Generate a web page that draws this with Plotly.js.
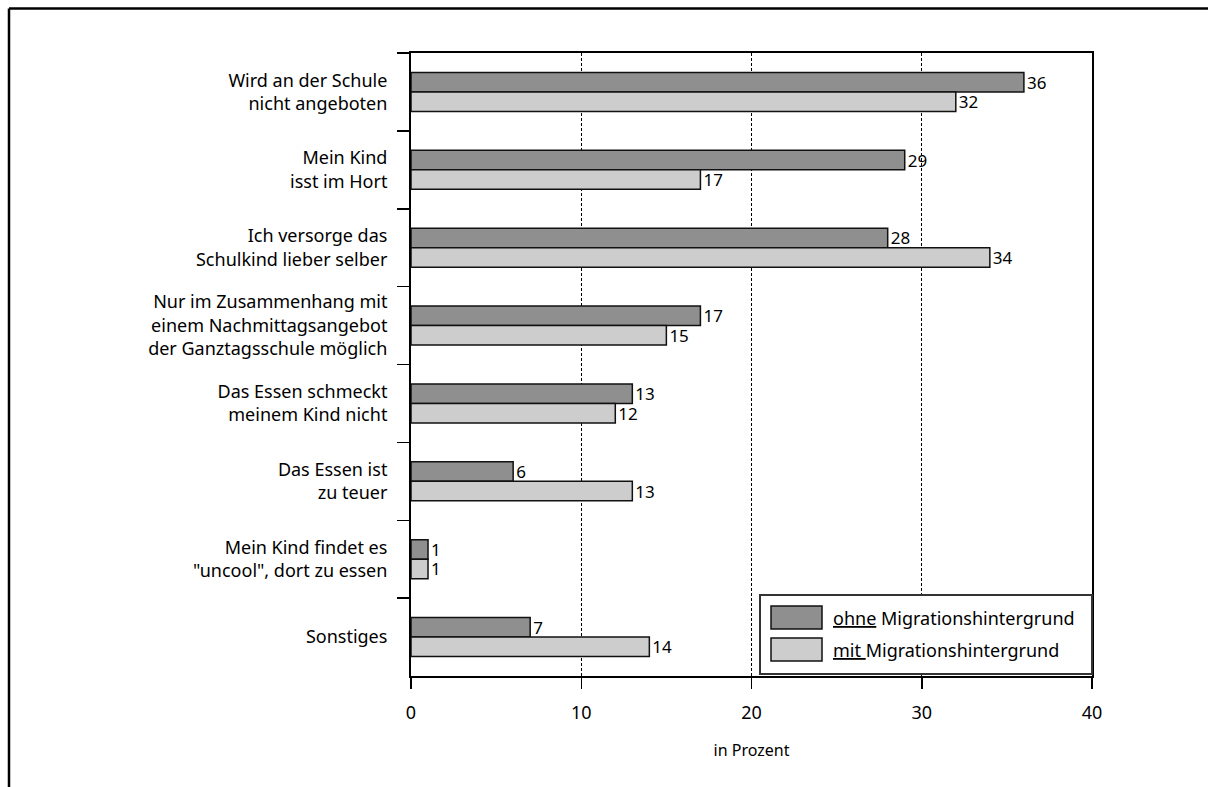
<!DOCTYPE html>
<html>
<head>
<meta charset="utf-8">
<script src="https://cdn.plot.ly/plotly-3.0.1.min.js"></script>
<style>
html,body{margin:0;padding:0;background:#fff;}
#chart{width:1208px;height:787px;}
</style>
</head>
<body>
<div id="chart"></div>
<script>
// ---- data ----
const categories = [
  "Wird an der Schule<br>nicht angeboten",
  "Mein Kind<br>isst im Hort",
  "Ich versorge das<br>Schulkind lieber selber",
  "Nur im Zusammenhang mit<br>einem Nachmittagsangebot<br>der Ganztagsschule möglich",
  "Das Essen schmeckt<br>meinem Kind nicht",
  "Das Essen ist<br>zu teuer",
  "Mein Kind findet es<br>\"uncool\", dort zu essen",
  "Sonstiges"
];
const ohneValues = [36, 29, 28, 17, 13, 6, 1, 7];
const mitValues  = [32, 17, 34, 15, 12, 13, 1, 14];
const seriesNames = ["<u>ohne</u> Migrationshintergrund", "<u>mit </u>Migrationshintergrund"];
const seriesColors = ["#8f8f8f", "#cdcdcd"];
const xTicks = [0, 10, 20, 30, 40];
const xTitle = "in Prozent";

const FONT = "Noto Sans, Liberation Sans, Arial, sans-serif";
const FS = 18;

const traces = [ohneValues, mitValues].map((vals, i) => ({
  type: "bar",
  orientation: "h",
  y: categories,
  x: vals,
  name: seriesNames[i],
  text: vals.map(String),
  textposition: "outside",
  constraintext: "none",
  cliponaxis: false,
  textfont: {family: FONT, size: 17, color: "#000"},
  marker: {color: seriesColors[i], line: {color: "#111", width: 1.5}},
  hoverinfo: "x+y",
  showlegend: false
}));

// plot area in pixels
const L = 411, R = 1092, T = 53, B = 676;
const W = R - L, H = B - T;
const px = v => (v - L) / W;
const py = v => (B - v) / H;

const shapes = [
  // outer frame (top and left edges)
  {type: "line", xref: "paper", yref: "paper", x0: px(9), x1: px(1230), y0: py(8.5), y1: py(8.5), line: {color: "#000", width: 2.5}},
  {type: "line", xref: "paper", yref: "paper", x0: px(9), x1: px(9), y0: py(8.5), y1: py(800), line: {color: "#000", width: 2.5}},
  // legend box
  {type: "rect", xref: "paper", yref: "paper", x0: px(760), x1: px(1092), y0: py(674), y1: py(595), fillcolor: "#fff", line: {color: "#333", width: 2}, layer: "above"},
];
const annotations = [];
const swatchY = [[606, 629], [638, 661]];
seriesNames.forEach((n, i) => {
  shapes.push({type: "rect", xref: "paper", yref: "paper", x0: px(771), x1: px(822), y0: py(swatchY[i][1]), y1: py(swatchY[i][0]),
    fillcolor: seriesColors[i], line: {color: "#111", width: 1.5}, layer: "above"});
  annotations.push({xref: "paper", yref: "paper", x: px(831), y: py((swatchY[i][0] + swatchY[i][1]) / 2),
    xanchor: "left", yanchor: "middle", showarrow: false, text: n, font: {family: FONT, size: FS, color: "#000"}});
});

const layout = {
  width: 1208, height: 787,
  margin: {l: L, r: 1208 - R, t: T, b: 787 - B},
  paper_bgcolor: "#fff", plot_bgcolor: "#fff",
  font: {family: FONT, size: FS, color: "#000"},
  barmode: "group",
  bargap: 0.5,
  bargroupgap: 0,
  showlegend: false,
  xaxis: {
    range: [0, 40],
    tickvals: xTicks,
    ticks: "outside", ticklen: 11, tickwidth: 1.5, tickcolor: "#000",
    showline: true, linecolor: "#000", linewidth: 2, mirror: true,
    showgrid: true, gridcolor: "#000", gridwidth: 1, griddash: "3px,2px",
    zeroline: false,
    tickfont: {family: FONT, size: FS, color: "#000"},
    ticklabelstandoff: 8,
    title: {text: xTitle, font: {family: FONT, size: 16, color: "#000"}, standoff: 22},
    fixedrange: true
  },
  yaxis: {
    type: "category",
    autorange: "reversed",
    tickson: "boundaries",
    ticks: "outside", ticklen: 12, tickwidth: 1.5, tickcolor: "#000",
    showline: true, linecolor: "#000", linewidth: 2, mirror: true,
    showgrid: false, zeroline: false,
    tickfont: {family: FONT, size: FS, color: "#000"},
    ticklabelstandoff: 18,
    fixedrange: true
  },
  shapes: shapes,
  annotations: annotations
};

Plotly.newPlot("chart", traces, layout, {displayModeBar: false, staticPlot: true});
</script>
</body>
</html>
